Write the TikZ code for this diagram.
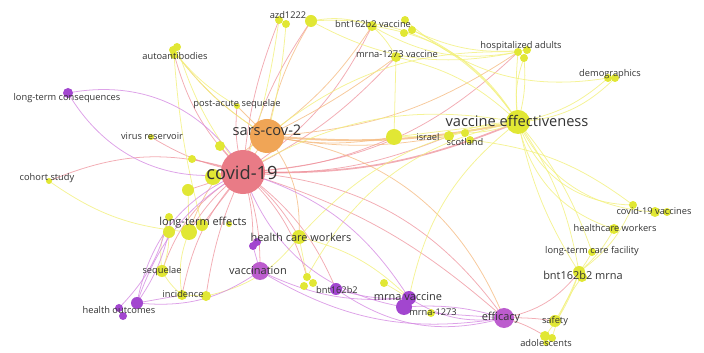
\documentclass[tikz,border=0pt]{standalone}
\usepackage{fontspec}
\setmainfont{Open Sans}
\usetikzlibrary{positioning}

\definecolor{kyel}{HTML}{E1E734}
\definecolor{kpur}{HTML}{A246CF}
\definecolor{kpink}{HTML}{E97B86}
\definecolor{korg}{HTML}{F0A556}
\definecolor{kmag}{HTML}{BC5CCE}
\definecolor{txt}{HTML}{333333}
\definecolor{eyel}{HTML}{F2F07C}
\definecolor{epnk}{HTML}{EE919B}
\definecolor{eorg}{HTML}{F4B77A}
\definecolor{epur}{HTML}{D58BE2}

\pgfdeclarelayer{edges}
\pgfsetlayers{edges,main}

\tikzset{
  kw/.style={circle, inner sep=0pt, minimum size=#1*0.5mm, fill=kyel},
  kp/.style={kw=#1, fill=kpur},
  ey/.style={draw=eyel, line width=0.55pt, opacity=0.8},
  ep/.style={draw=epnk, line width=0.55pt, opacity=0.75},
  eo/.style={draw=eorg, line width=0.55pt, opacity=0.75},
  eu/.style={draw=epur, line width=0.55pt, opacity=0.8},
  lbs/.style={inner sep=0pt, text=txt, font=\fontsize{6.6}{7}\selectfont},
  lbm/.style={inner sep=0pt, text=txt, font=\fontsize{7.8}{8}\selectfont},
  lbb/.style={inner sep=0pt, text=txt, font=\fontsize{10.4}{11}\selectfont},
  lbh/.style={inner sep=0pt, text=txt, font=\fontsize{13}{14}\selectfont},
}

\begin{document}
\begin{tikzpicture}[x=0.025cm, y=-0.025cm]
\useasboundingbox (0,0) rectangle (704,353);

% keywords
\node[kw=22, fill=kpink] (covid) at (243,172) {};
\node[kw=17, fill=korg] (sars) at (267,136) {};
\node[kw=12] (vaceff) at (518,122) {};
\node[kw=8] (u1) at (394,137) {};
\node[kw=5] (isr) at (449,136) {};
\node[kw=4] (sco1) at (465,133) {};
\node[kw=4] (sco2) at (470,140) {};
\node[kw=4] (hosp1) at (518,52) {};
\node[kw=4] (hosp2) at (527,50) {};
\node[kw=4] (hosp3) at (524,58) {};
\node[kw=4] (demo1) at (608,78) {};
\node[kw=4] (demo2) at (615,78) {};
\node[kw=5] (m1273v) at (396,57) {};
\node[kw=5] (bntv1) at (372,26) {};
\node[kw=4] (bntv2) at (405,20) {};
\node[kw=4] (bntv3) at (412,30) {};
\node[kw=4] (bntv4) at (404,33) {};
\node[kw=4] (azd1) at (279,20) {};
\node[kw=4] (azd2) at (286,24) {};
\node[kw=6] (azd3) at (311,21) {};
\node[kw=4] (auto1) at (173,50) {};
\node[kw=4] (auto2) at (177,47) {};
\node[kw=4] (auto3) at (174,55) {};
\node[kw=3] (pas) at (237,106) {};
\node[kp=5] (ltc) at (68,93) {};
\node[kw=3] (vir) at (151,137) {};
\node[kw=5] (u2) at (220,146) {};
\node[kw=4] (u3) at (192,159) {};
\node[kw=3] (cohort) at (49,181) {};
\node[kw=6] (u4) at (188,190) {};
\node[kw=8] (u5) at (213,177) {};
\node[kw=6] (lte1) at (169,232) {};
\node[kw=8] (lte2) at (189,232) {};
\node[kw=6] (lte3) at (202,225) {};
\node[kw=4] (lte4) at (169,217) {};
\node[kw=3] (lte5) at (229,224) {};
\node[kw=7] (hcw) at (299,237) {};
\node[kp=4] (hcwp1) at (253,246) {};
\node[kp=4] (hcwp2) at (257,242) {};
\node[kp=9, fill=kmag] (vacc) at (260,271) {};
\node[kw=4] (y1) at (307,277) {};
\node[kw=4] (y2) at (313,283) {};
\node[kw=4] (y3) at (304,286) {};
\node[kp=6] (bnt) at (336,289) {};
\node[kw=4] (y4) at (384,283) {};
\node[kp=7] (mrnav1) at (409,298) {};
\node[kp=8] (mrnav2) at (404,307) {};
\node[kw=4] (m1273) at (431,313) {};
\node[kp=10, fill=kmag] (eff) at (504,318) {};
\node[kw=6] (safety) at (555,321) {};
\node[kw=5] (ado1) at (545,336) {};
\node[kw=4] (ado2) at (552,338) {};
\node[kw=3] (ado3) at (546,343) {};
\node[kw=6] (bntm1) at (579,272) {};
\node[kw=5] (bntm2) at (582,277) {};
\node[kw=4] (ltcf) at (592,252) {};
\node[kw=5] (hcw2) at (614,229) {};
\node[kw=4] (cv1) at (633,205) {};
\node[kw=5] (cv2) at (655,212) {};
\node[kw=4] (cv3) at (667,212) {};
\node[kw=6] (seq) at (162,271) {};
\node[kw=5] (inc1) at (182,295) {};
\node[kw=5] (inc2) at (206,296) {};
\node[kp=6] (ho1) at (137,303) {};
\node[kp=4] (ho2) at (119,308) {};
\node[kp=4] (ho3) at (123,316) {};

% links
\begin{pgfonlayer}{edges}
\foreach \a/\b/\c in {covid/cohort/-20, covid/lte2/-10, covid/seq/-20,
  covid/inc1/-15, covid/vacc/10, covid/hcwp1/8, covid/bnt/15,
  covid/eff/25, covid/eff/12, covid/hcw/10, covid/u1/-10, covid/isr/-12,
  covid/pas/10, covid/vir/10, covid/auto1/15, covid/azd1/8, covid/azd3/10,
  covid/m1273v/-10, covid/bntv1/-15, covid/hosp1/-20, covid/u2/0,
  covid/u3/0, covid/u4/0, covid/u5/0, covid/lte3/0, covid/y1/15,
  covid/inc2/-8, eff/bntm1/-20, eff/safety/5, eff/ado1/8}
  \draw[ep] (\a.center) to[bend left=\c] (\b.center);
\draw[ep, line width=1.2pt] (covid.center) to[bend left=-12] (vaceff.center);
\foreach \a/\b/\c in {sars/u1/-10, sars/isr/-10, sars/azd3/10,
  sars/bntv1/-10, sars/m1273v/-5, sars/auto1/10, sars/pas/0,
  sars/hosp1/-15, sars/eff/30, sars/hcw/20, sars/lte2/-20, sars/covid/0}
  \draw[eo] (\a.center) to[bend left=\c] (\b.center);
\draw[eo, line width=1.4pt] (sars.center) to[bend left=-8] (vaceff.center);
\foreach \a/\b/\c in {vaceff/hosp1/5, vaceff/hosp3/-10, vaceff/hosp2/15,
  vaceff/demo1/-15, vaceff/demo2/-20, vaceff/isr/-10, vaceff/sco1/10,
  vaceff/cv1/-35, vaceff/cv2/-30, vaceff/hcw2/-30, vaceff/ltcf/10,
  vaceff/bntm1/12, vaceff/bntm2/-10, vaceff/bntv1/-25, vaceff/bntv3/-15,
  vaceff/m1273v/-15, vaceff/azd3/-30, vaceff/u1/0, vaceff/hcw/-20,
  vaceff/y1/-25, vaceff/mrnav1/-20, vaceff/covid/-20, sco2/cv1/15,
  bntm1/safety/5, bntm1/ado1/10, bntm1/ltcf/-5, bntm1/hcw2/-10,
  bntm1/cv1/-15, bntm2/ado2/-10, bntv1/azd3/-15, bntv1/hosp1/-20,
  bntv2/demo1/-25, bntv1/m1273v/10, bntv3/hosp2/-15, azd3/hosp1/-20,
  auto1/pas/-10, auto2/covid/-10, auto1/sars/-10, auto3/lte3/-5,
  lte1/seq/10, lte2/inc1/-15, seq/inc1/-10, inc1/inc2/0, seq/lte4/15,
  u4/lte2/0, hcw/y1/0, hcw/inc2/20, m1273v/u1/0, u1/isr/0,
  cohort/lte2/-15, azd1/covid/5, azd2/sars/5, hosp1/sars/-20,
  y4/mrnav1/0, hcw/mrnav1/15}
  \draw[ey] (\a.center) to[bend left=\c] (\b.center);
\foreach \a/\b/\c in {covid/ltc/35, covid/ltc/-35, ho1/covid/20,
  ho1/covid/28, ho1/lte1/-10, ho1/vacc/-20, ho1/inc1/0, ho2/lte4/-15,
  eff/mrnav1/20, eff/mrnav2/-10, eff/bnt/25, eff/vacc/20, eff/m1273/0,
  mrnav1/bnt/10, mrnav1/vacc/15, mrnav2/covid/30, hcwp1/vacc/0,
  covid/mrnav1/20}
  \draw[eu] (\a.center) to[bend left=\c] (\b.center);
\end{pgfonlayer}

% labels
\node[lbh] (covid-l) at (242,173) {covid-19};
\node[lbb] (sars-l) at (267,130) {sars-cov-2};
\node[lbb] (vaceff-l) at (517,121) {vaccine effectiveness};
\node[lbs] (isr-l) at (428,137) {israel};
\node[lbs] (sco-l) at (465,142) {scotland};
\node[lbs] (hosp-l) at (521,46) {hospitalized adults};
\node[lbs] (demo-l) at (610,74) {demographics};
\node[lbs] (m1273v-l) at (397,54) {mrna-1273 vaccine};
\node[lbs] (bntv-l) at (373,24) {bnt162b2 vaccine};
\node[lbs] (azd-l) at (288,15) {azd1222};
\node[lbs] (auto-l) at (175,56) {autoantibodies};
\node[lbs] (pas-l) at (237,104) {post-acute sequelae};
\node[lbs] (ltc-l) at (67,98) {long-term consequences};
\node[lbs] (vir-l) at (152,136) {virus reservoir};
\node[lbs] (cohort-l) at (47,178) {cohort study};
\node[lbm] (lte-l) at (203,223) {long-term effects};
\node[lbm] (hcw-l) at (301,237) {health care workers};
\node[lbm] (vacc-l) at (258,271) {vaccination};
\node[lbs] (bnt-l) at (337,290) {bnt162b2};
\node[lbm] (mrnav-l) at (408,297) {mrna vaccine};
\node[lbs] (m1273-l) at (433,312) {mrna-1273};
\node[lbm] (eff-l) at (501,318) {efficacy};
\node[lbs] (safety-l) at (555,321) {safety};
\node[lbs] (ado-l) at (546,343) {adolescents};
\node[lbm] (bntm-l) at (583,275) {bnt162b2 mrna};
\node[lbs] (ltcf-l) at (592,251) {long-term care facility};
\node[lbs] (hcw2-l) at (615,228) {healthcare workers};
\node[lbs] (cv-l) at (654,211) {covid-19 vaccines};
\node[lbs] (seq-l) at (162,271) {sequelae};
\node[lbs] (inc-l) at (183,294) {incidence};
\node[lbs] (ho-l) at (119,310) {health outcomes};
\end{tikzpicture}
\end{document}
